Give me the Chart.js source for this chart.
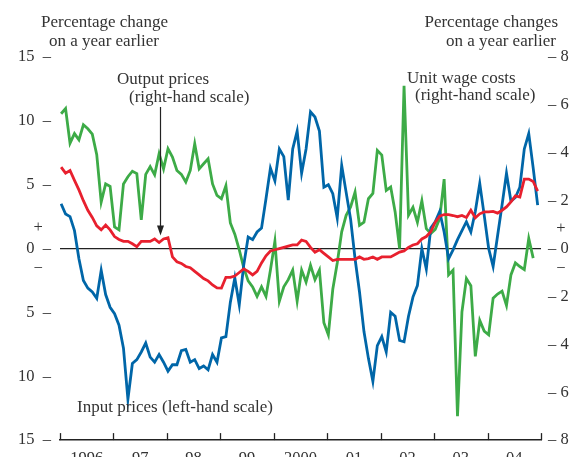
<!DOCTYPE html>
<html>
<head>
<meta charset="utf-8">
<script src="https://cdn.jsdelivr.net/npm/chart.js@4.4.0/dist/chart.umd.min.js"></script>
<style>
  html, body { margin: 0; padding: 0; background: #fff; }
</style>
</head>
<body>
<canvas id="chart" width="576" height="459"></canvas>
<script>
// monthly data from January 1996
const startYear = 1996;
const yearLabels = ["1996", "97", "98", "99", "2000", "01", "02", "03", "04"];

// left-hand scale
const inputPrices = [
  3.5, 2.7, 2.5, 1.4, -0.8, -2.5, -3.1, -3.4, -3.9, -1.7,
  -3.6, -4.6, -5.1, -6.0, -7.8, -11.8, -9.0, -8.7, -8.1, -7.4,
  -8.5, -8.9, -8.3, -8.9, -9.6, -9.1, -9.1, -8.0, -7.9, -8.9,
  -8.7, -9.4, -9.2, -9.5, -8.3, -8.9, -7.0, -6.9, -4.2, -2.3,
  -4.4, -1.3, 0.9, 0.7, 1.3, 1.6, 3.9, 6.3, 5.3, 7.8,
  7.2, 3.8, 7.8, 9.2, 5.9, 7.8, 10.7, 10.3, 9.2, 4.8,
  5.0, 4.3, 2.4, 6.5, 4.4, 2.3, -0.8, -3.4, -6.5, -8.6,
  -10.4, -7.6, -6.9, -8.1, -5.0, -5.3, -7.2, -7.3, -5.3, -3.8,
  -2.9, 0.0, -1.6, 1.6, 2.1, 2.9, 1.3, -0.8, -0.1, 0.7,
  1.4, 2.1, 1.3, 2.9, 5.1, 2.6, 0.0, -1.4, 1.0, 3.4,
  5.9, 3.7, 4.0, 4.8, 7.8, 9.0, 6.3, 3.4
];

// right-hand scale
const outputPrices = [
  3.4, 3.15, 3.26, 2.85, 2.45, 2.0, 1.6, 1.3, 0.95, 0.78,
  0.98, 0.78, 0.5, 0.38, 0.3, 0.3, 0.2, 0.08, 0.3, 0.3,
  0.3, 0.4, 0.25, 0.4, 0.45, -0.35, -0.55, -0.62, -0.75, -0.8,
  -0.95, -1.1, -1.25, -1.35, -1.52, -1.64, -1.65, -1.2, -1.2, -1.15,
  -1.0, -0.85, -0.95, -1.1, -0.95, -0.6, -0.3, -0.1, -0.05, 0.0,
  0.05, 0.1, 0.15, 0.15, 0.35, 0.3, 0.05, -0.15, -0.05, -0.2,
  -0.35, -0.5, -0.45, -0.45, -0.45, -0.45, -0.45, -0.35, -0.45, -0.42,
  -0.35, -0.45, -0.35, -0.35, -0.35, -0.25, -0.15, -0.1, 0.05, 0.15,
  0.2, 0.4, 0.5, 0.7, 1.1, 1.35, 1.42, 1.42, 1.38, 1.33,
  1.38, 1.3, 1.6, 1.28, 1.45, 1.53, 1.53, 1.55, 1.48, 1.6,
  1.74, 1.95, 2.2, 2.15, 2.9, 2.9, 2.8, 2.4
];

const unitWageCosts = [
  5.63, 5.85, 4.4, 4.8, 4.54, 5.17, 5.0, 4.78, 3.92, 1.94,
  2.7, 2.6, 0.9, 0.78, 2.7, 3.0, 3.23, 3.13, 1.2, 3.1,
  3.42, 3.08, 3.96, 3.33, 4.17, 3.82, 3.26, 3.1, 2.78, 3.26,
  4.38, 3.33, 3.54, 3.75, 2.7, 2.22, 2.08, 2.62, 1.07, 0.6,
  -0.05, -0.8, -1.35, -1.6, -2.0, -1.6, -2.0, -0.9, 0.3, -2.2,
  -1.6, -1.3, -0.9, -2.2, -0.9, -1.4, -0.7, -1.3, -0.9, -3.1,
  -3.6, -1.7, -0.6, 0.7, 1.39, 1.74, 2.36, 0.97, 1.1, 2.08,
  2.3, 4.1, 3.9, 2.43, 2.57, 1.53, 0.0, 6.8, 1.39, 1.72,
  1.1, 2.0, 0.83, 0.63, 0.8, 1.25, 2.9, -1.1, -0.9, -7.0,
  -2.64, -1.25, -1.55, -4.5, -3.0, -3.45, -3.6, -2.07, -1.9, -1.78,
  -2.38, -1.1, -0.6, -0.75, -0.88, 0.42, -0.4
];

const leftTicks = [-15, -10, -5, 0, 5, 10, 15];
const rightTicks = [-8, -6, -4, -2, 0, 2, 4, 6, 8];
// where the + / − signs sit on each scale
const leftSign = 1.6;
const rightSign = 0.85;

const serif = "'Liberation Serif', 'DejaVu Serif', serif";
const textColor = "#333";

// month index -> position on the year axis
const toPoints = (arr) => arr.map((v, i) => ({ x: startYear + (i + 0.25) / 12, y: v }));

const annotationPlugin = {
  id: "annotationPlugin",
  afterDraw: (chart) => {
    const ctx = chart.ctx;
    const { chartArea } = chart;
    const xScale = chart.scales.x;
    const yR = chart.scales.yR;
    ctx.save();

    // year tick marks point up from the axis
    ctx.strokeStyle = "#222";
    ctx.lineWidth = 1.3;
    for (let yr = startYear; yr <= startYear + yearLabels.length; yr++) {
      const px = Math.round(xScale.getPixelForValue(yr)) + 0.5;
      ctx.beginPath();
      ctx.moveTo(px, chartArea.bottom);
      ctx.lineTo(px, chartArea.bottom - 7);
      ctx.stroke();
    }

    ctx.fillStyle = textColor;
    ctx.font = `17px ${serif}`;
    ctx.textBaseline = "alphabetic";
    ctx.textAlign = "left";
    ctx.fillText("Percentage change", 41, 27);
    ctx.fillText("on a year earlier", 49, 46);
    ctx.fillText("Output prices", 117, 84);
    ctx.fillText("(right-hand scale)", 129, 102);
    ctx.fillText("Unit wage costs", 407, 83);
    ctx.fillText("(right-hand scale)", 415, 100);
    ctx.fillText("Input prices (left-hand scale)", 77, 412);
    ctx.textAlign = "right";
    ctx.fillText("Percentage changes", 558, 27);
    ctx.fillText("on a year earlier", 556, 46);

    // arrow to output prices
    const ax = Math.round(xScale.getPixelForValue(1997.87)) + 0.5;
    const tipY = yR.getPixelForValue(0.55);
    ctx.strokeStyle = "#222";
    ctx.lineWidth = 1.2;
    ctx.beginPath();
    ctx.moveTo(ax, 107);
    ctx.lineTo(ax, tipY - 8);
    ctx.stroke();
    ctx.fillStyle = "#222";
    ctx.beginPath();
    ctx.moveTo(ax, tipY);
    ctx.lineTo(ax - 3.5, tipY - 10);
    ctx.lineTo(ax + 3.5, tipY - 10);
    ctx.closePath();
    ctx.fill();

    ctx.restore();
  },
};

const lineStyle = {
  borderWidth: 2.8,
  pointRadius: 0,
  tension: 0,
  fill: false,
  borderJoinStyle: "miter",
};

new Chart(document.getElementById("chart"), {
  type: "line",
  data: {
    datasets: [
      { label: "Output prices", data: toPoints(outputPrices), yAxisID: "yR", borderColor: "#e8202e", ...lineStyle },
      { label: "Input prices", data: toPoints(inputPrices), yAxisID: "yL", borderColor: "#0066a8", ...lineStyle },
      { label: "Unit wage costs", data: toPoints(unitWageCosts), yAxisID: "yR", borderColor: "#3dab47", ...lineStyle },
    ],
  },
  options: {
    responsive: false,
    animation: false,
    events: [],
    layout: { padding: { top: 57, left: 0, right: 0, bottom: 0 } },
    plugins: {
      legend: { display: false },
      tooltip: { enabled: false },
    },
    scales: {
      x: {
        type: "linear",
        min: startYear,
        max: startYear + yearLabels.length,
        afterBuildTicks: (scale) => {
          scale.ticks = yearLabels.map((l, i) => ({ value: startYear + i + 0.5 }));
        },
        afterFit: (scale) => { scale.height = 17; },
        ticks: {
          autoSkip: false,
          maxRotation: 0,
          padding: 1,
          color: textColor,
          font: { family: serif, size: 16.5 },
          callback: (v, i) => yearLabels[i],
        },
        grid: { display: false },
        border: { display: true, color: "#222", width: 1.5 },
      },
      yL: {
        type: "linear",
        position: "left",
        min: -15,
        max: 15,
        afterBuildTicks: (scale) => {
          scale.ticks = leftTicks.concat([leftSign, -leftSign]).sort((a, b) => a - b).map((v) => ({ value: v }));
        },
        afterFit: (scale) => { scale.width = 60; },
        ticks: {
          autoSkip: false,
          padding: 9,
          color: textColor,
          font: { family: serif, size: 16.5 },
          callback: (v) => (v === leftSign ? "+  " : v === -leftSign ? "\u2212  " : Math.abs(v) + "  \u2013"),
        },
        grid: {
          drawTicks: false,
          lineWidth: 1.2,
          color: (c) => (c.tick && c.tick.value === 0 ? "#222" : "rgba(0,0,0,0)"),
        },
        border: { display: false },
      },
      yR: {
        type: "linear",
        position: "right",
        min: -8,
        max: 8,
        afterBuildTicks: (scale) => {
          scale.ticks = rightTicks.concat([rightSign, -rightSign]).sort((a, b) => a - b).map((v) => ({ value: v }));
        },
        afterFit: (scale) => { scale.width = 35; },
        ticks: {
          autoSkip: false,
          padding: 7,
          color: textColor,
          font: { family: serif, size: 16.5 },
          callback: (v) => (v === rightSign ? "  +" : v === -rightSign ? "  \u2212" : "\u2013 " + Math.abs(v)),
        },
        grid: { display: false, drawTicks: false },
        border: { display: false },
      },
    },
  },
  plugins: [annotationPlugin],
});
</script>
</body>
</html>
